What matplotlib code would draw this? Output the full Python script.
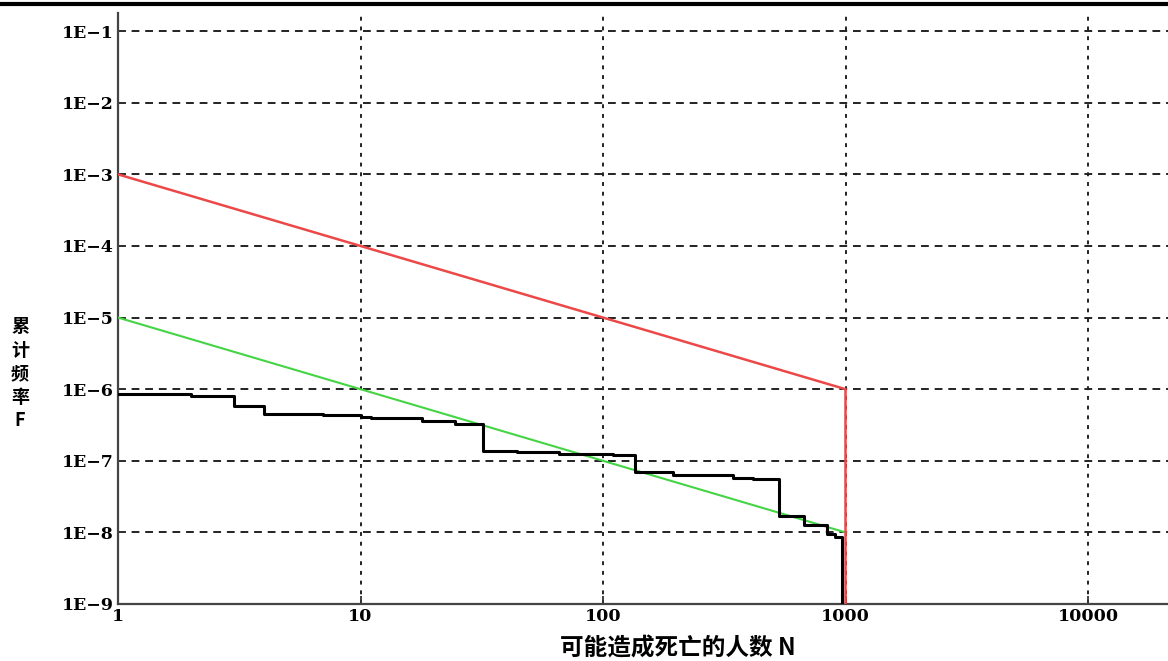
import numpy as np
import matplotlib
matplotlib.use('Agg')
from matplotlib import pyplot as plt
from matplotlib.lines import Line2D
from matplotlib.ticker import FixedLocator, FuncFormatter, NullLocator

# black stepped curve (calculated cumulative frequency)
step_n = [1, 2, 3, 4, 7, 10, 11, 18, 24.5, 32, 44, 66, 110, 135, 195, 343, 415,
          533, 674, 837, 906, 965]
step_f = [8.67e-7, 7.96e-7, 5.82e-7, 4.53e-7, 4.31e-7, 4.14e-7, 3.98e-7, 3.54e-7,
          3.24e-7, 1.38e-7, 1.31e-7, 1.24e-7, 1.21e-7, 6.95e-8, 6.27e-8, 5.82e-8,
          5.51e-8, 1.68e-8, 1.25e-8, 9.55e-9, 8.59e-9, 1e-10]

# upper limit line (red) and lower limit line (green)
upper_n = [1, 1000, 1000]
upper_f = [1e-3, 1e-6, 1e-10]
lower_n = [1, 1000]
lower_f = [1e-5, 1e-8]

x_ticks = [1, 10, 100, 1000, 10000]
x_labels = ['1', '10', '100', '1000', '10000']
y_exps = [-9, -8, -7, -6, -5, -4, -3, -2, -1]

cjk = ['Noto Sans CJK SC', 'DejaVu Sans']
tickfont = 'DejaVu Serif'

fig = plt.figure(figsize=(11.68, 6.61), dpi=100)
ax = fig.add_axes([118/1168, 1-604/661, 1-118/1168, (604-13)/661])

ax.set_xscale('log')
ax.set_yscale('log')
ax.set_xlim(1, 10**((1168-118)/242.5))
ax.set_ylim(1e-9, 10**(-1+18/71.0))

ax.step(step_n, step_f, where='post', color='black', lw=2.2, zorder=4)
ax.plot(lower_n, lower_f, color='#44d444', lw=1.5, zorder=3)
ax.plot(upper_n, upper_f, color='#ec4848', lw=1.8, zorder=3)

ax.xaxis.set_major_locator(FixedLocator(x_ticks))
ax.xaxis.set_minor_locator(NullLocator())
ax.set_xticklabels(x_labels)
ax.yaxis.set_major_locator(FixedLocator([10.0**e for e in y_exps]))
ax.yaxis.set_minor_locator(NullLocator())
ax.yaxis.set_major_formatter(FuncFormatter(lambda v, p: '1E\u2212%d' % round(-np.log10(v))))

for lab in ax.get_xticklabels() + ax.get_yticklabels():
    lab.set_fontfamily(tickfont)
    lab.set_fontweight('bold')
    lab.set_fontsize(12.5)

ax.tick_params(direction='in', length=6, width=1.3, color='#333333', pad=3)

# grid: dashed horizontals, dotted verticals
for e in y_exps:
    ax.axhline(10.0**e, color='#222222', lw=1.4, ls=(0, (4, 3)), zorder=1)
for t in x_ticks[1:]:
    ax.axvline(t, color='#222222', lw=1.4, ls=(0, (2, 3)), zorder=1)

for s in ['top', 'right']:
    ax.spines[s].set_visible(False)
for s in ['left', 'bottom']:
    ax.spines[s].set_color('#444444')
    ax.spines[s].set_linewidth(1.6)

fig.text(678/1168, 1-648/661, '可能造成死亡的人数 N', family=cjk, fontsize=17,
         fontweight='bold', ha='center', va='center')
fig.text(20/1168, 1-374/661, '累\n计\n频\n率\nF', family=cjk, fontsize=13,
         fontweight='bold', ha='center', va='center', linespacing=1.3)

fig.add_artist(Line2D([0, 1], [1-4/661, 1-4/661], color='black', lw=3))

plt.savefig('out.png', dpi=100)
